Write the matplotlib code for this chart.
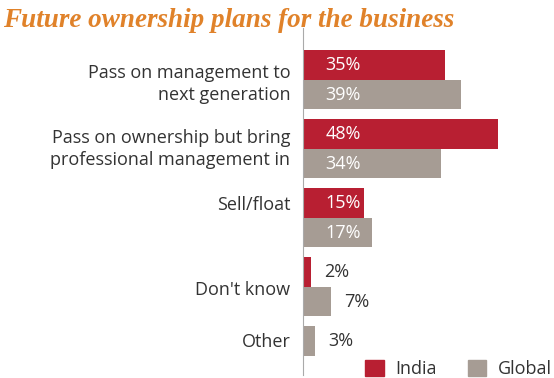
import matplotlib
matplotlib.use("Agg")
import matplotlib.pyplot as plt
from matplotlib.patches import Patch

# data
categories = ["Pass on management to\nnext generation",
              "Pass on ownership but bring\nprofessional management in",
              "Sell/float", "Don't know", "Other"]
india = [35, 48, 15, 2, None]
glob = [39, 34, 17, 7, 3]

red = "#B81F32"
grey = "#A69C94"
txt = "#333333"

W, H = 554, 378
fig = plt.figure(figsize=(W / 100, H / 100), dpi=100)
# axes box in pixels: left 303, top 28, right 554, bottom 375
ax = fig.add_axes([303 / W, 1 - 375 / H, (554 - 303) / W, (375 - 28) / H])

bh = 0.43
for i, (a, b) in enumerate(zip(india, glob)):
    if a is None:
        # no India value: the Global bar takes the first slot
        slots = [(b, grey, i + bh / 2)]
    else:
        slots = [(a, red, i + bh / 2), (b, grey, i + 1.5 * bh)]
    for v, c, y in slots:
        ax.barh(y, v, height=bh, color=c, edgecolor="none")
        if v >= 10:
            ax.text(5.6, y, f"{v}%", color="white", va="center", ha="left",
                    fontsize=13, family="Open Sans")
        else:
            ax.text(v + 3.1, y, f"{v}%", color=txt, va="center", ha="left",
                    fontsize=13, family="Open Sans")

ax.set_xlim(0, 251 / 4.06)
ax.set_ylim(4.71, -0.319)

label_y = [0.43, 1.37, 2.22, 3.45, 4.2]
ax.set_yticks(label_y)
ax.set_yticklabels(categories, fontsize=13, color=txt, family="Open Sans",
                   linespacing=1.3)
ax.tick_params(axis="y", length=0, pad=9)
ax.set_xticks([])
for s in ["top", "right", "bottom"]:
    ax.spines[s].set_visible(False)
ax.spines["left"].set_color("#AAAAAA")
ax.spines["left"].set_linewidth(0.8)

fig.text(3 / W, 1 - 27 / H, "Future ownership plans for the business",
         color="#E0822A", fontsize=19.5, fontweight="bold", fontstyle="italic",
         family="Liberation Serif", ha="left", va="baseline")

handles = [Patch(color=red, label="India"), Patch(color=grey, label="Global")]
leg = fig.legend(handles=handles, ncol=2, frameon=False, loc="lower right",
                 bbox_to_anchor=(1.0, -0.005), fontsize=13, handlelength=1.05,
                 handleheight=1.05, handletextpad=0.65, columnspacing=1.7,
                 borderaxespad=0.0, borderpad=0.1)
for t in leg.get_texts():
    t.set_color(txt)
    t.set_family("Open Sans")

fig.savefig("out.png", dpi=100)
